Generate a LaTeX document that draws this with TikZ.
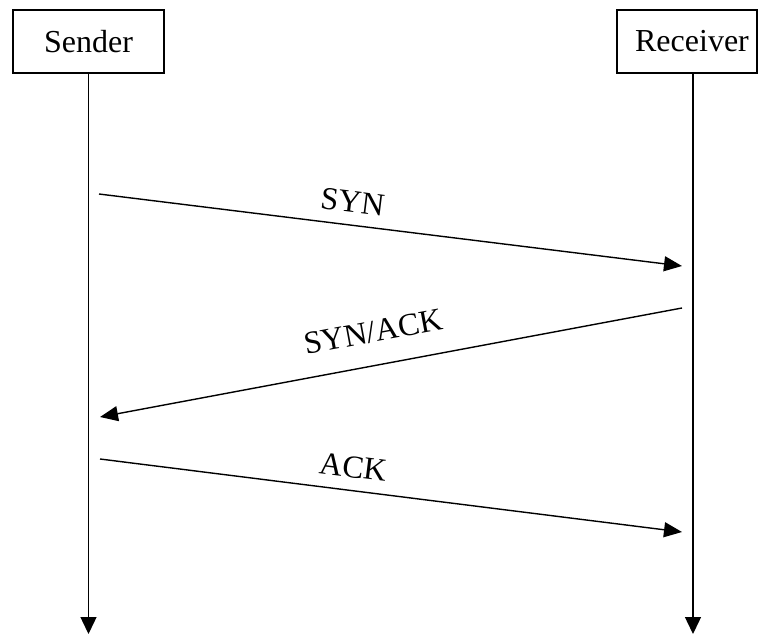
\documentclass[tikz,border=0pt]{standalone}
\usepackage{fontspec}
\setmainfont{Liberation Serif}
\usetikzlibrary{arrows.meta}
\begin{document}
\begin{tikzpicture}[x=1pt,y=-1pt,
  box/.style={draw, line width=1.4pt, minimum height=63pt, inner sep=0pt,
    font=\fontsize{32}{38}\selectfont},
  life/.style={line width=1.4pt, -{Triangle[length=17pt,width=16pt]}},
  msg/.style={line width=1.4pt, -{Triangle[length=18pt,width=15pt]}},
  lbl/.style={sloped, above=12pt, inner sep=0pt, font=\fontsize{32}{38}\selectfont}]
\useasboundingbox (0,0) rectangle (758,635);
\node[box, minimum width=151pt] (send) at (88.5,41.5) {Sender};
\node[box, minimum width=140pt] (recv) at (687,41.5) {\hspace*{10pt}Receiver};
\coordinate (sendEnd) at (88.5,634);
\coordinate (recvEnd) at (693,634);
\draw[life] (send.south) -- (sendEnd);
\draw[life] (recv.south -| recvEnd) -- (recvEnd);
\coordinate (s1) at (99,194);
\coordinate (r1) at (682,266);
\coordinate (r2) at (682,308);
\coordinate (s2) at (100,417);
\coordinate (s3) at (100,459);
\coordinate (r3) at (682,532);
\draw[msg] (s1) -- node[lbl, pos=0.43] (l1) {SYN} (r1);
\draw[msg] (r2) -- node[lbl, pos=0.52, above=10pt] (l2) {SYN/ACK} (s2);
\draw[msg] (s3) -- node[lbl, pos=0.43] (l3) {ACK} (r3);
\end{tikzpicture}
\end{document}
